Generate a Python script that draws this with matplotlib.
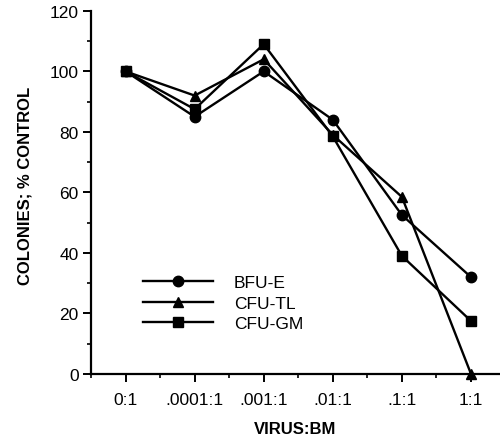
import matplotlib.pyplot as plt
from matplotlib.ticker import MultipleLocator

plt.rcParams['font.family'] = ['Liberation Sans', 'DejaVu Sans']

dosis = ["0:1", ".0001:1", ".001:1", ".01:1", ".1:1", "1:1"]
bfu_e = [100, 85, 100, 84, 52.5, 32]
cfu_tl = [100, 92, 104, 79, 58.5, 0]
cfu_gm = [100, 87.5, 109, 78.5, 39, 17.5]

fig = plt.figure(figsize=(5.0, 4.39), dpi=100)
ax = fig.add_axes([0.182, 0.146, 0.818, 0.827])

x = list(range(len(dosis)))
estilo = dict(color='black', linewidth=1.7, clip_on=False)
ax.plot(x, bfu_e, marker='o', markersize=7.5, label='BFU-E', **estilo)
ax.plot(x, cfu_tl, marker='^', markersize=7.5, label='CFU-TL', **estilo)
ax.plot(x, cfu_gm, marker='s', markersize=7, label='CFU-GM', **estilo)

ax.set_xlim(-0.5, 5.42)
ax.set_ylim(0, 120)
ax.set_xticks(x)
ax.set_xticklabels(dosis)
ax.xaxis.set_minor_locator(MultipleLocator(0.5))
ax.yaxis.set_major_locator(MultipleLocator(20))
ax.yaxis.set_minor_locator(MultipleLocator(10))

for lado in ['top', 'right']:
    ax.spines[lado].set_visible(False)
for lado in ['left', 'bottom']:
    ax.spines[lado].set_linewidth(1.6)

ax.tick_params(axis='both', which='major', length=6, width=1.4, labelsize=12.5, pad=3)
ax.tick_params(axis='both', which='minor', length=3, width=1.2)
ax.tick_params(axis='x', which='major', pad=7)

ax.set_ylabel("COLONIES; % CONTROL", fontsize=12, fontweight='bold')
ax.yaxis.set_label_coords(-0.142, 0.52)
ax.set_xlabel("VIRUS:BM", fontsize=12, fontweight='bold', labelpad=10)

ax.legend(loc='upper left', bbox_to_anchor=(0.09, 0.315), frameon=False,
          fontsize=12.5, handlelength=4.0, handletextpad=1.2, labelspacing=0.3)

fig.savefig("out.png", dpi=100)
